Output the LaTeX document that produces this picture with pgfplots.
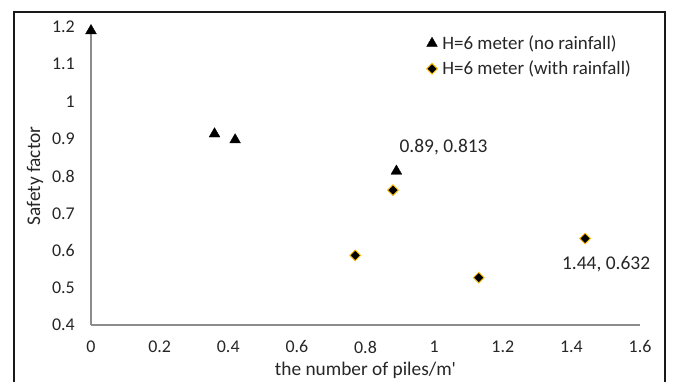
\documentclass[border=0pt]{standalone}
\usepackage{pgfplots}
\pgfplotsset{compat=1.18}
\usepackage{fontspec}
\setmainfont{Carlito}

\definecolor{axisgray}{HTML}{8C8C8C}
\definecolor{txt}{HTML}{262626}
\definecolor{rimgold}{HTML}{FFC000}

\begin{document}
\begin{tikzpicture}[x=1bp,y=1bp]
\useasboundingbox (0,0) rectangle (675,381);
% outer chart frame
\draw[line width=1.6bp, black!90] (14,-3) -- (14,369) -- (665,369) -- (665,-3);
\begin{axis}[
  at={(91bp,56bp)}, anchor=south west,
  scale only axis, width=549bp, height=298bp,
  xmin=0, xmax=1.6, ymin=0.4, ymax=1.2,
  axis lines=left,
  axis line style={-, draw=axisgray, line width=1.1bp},
  xtick={0,0.2,...,1.6}, ytick={0.4,0.5,...,1.2},
  major tick length=0pt,
  /pgf/number format/assume math mode=true,
  /pgf/number format/.cd, fixed, precision=1, /pgfplots/.cd,
  tick label style={font=\fontsize{18}{18}\selectfont, text=txt},
  xticklabel style={anchor=center, inner sep=0pt, yshift=-22bp},
  yticklabel style={anchor=east, inner sep=0pt, xshift=-16bp},
  xlabel={the number of piles/m\textquotesingle},
  ylabel={Safety factor},
  label style={font=\fontsize{19.4}{19.4}\selectfont, text=txt},
  xlabel style={at={(axis description cs:0.5,-0.151)}, anchor=center},
  ylabel style={at={(axis description cs:-0.102,0.5)}, anchor=center},
  legend style={at={(axis description cs:0.611,0.978)}, anchor=north west,
    draw=none, fill=none, font=\fontsize{19}{19}\selectfont, text=txt,
    row sep=6bp, column sep=3bp, inner sep=0pt,
    nodes={inner sep=2bp}},
  legend cell align=left,
  legend image code/.code={\draw[#1] plot coordinates {(0bp,0bp)};},
  clip=false,
]
\addplot[only marks, mark=triangle*, mark size=6.2bp,
  mark options={fill=black, draw=black}]
  coordinates {(0,1.19) (0.36,0.913) (0.42,0.897) (0.89,0.813)};
\addlegendentry{H=6 meter (no rainfall)}
\addplot[only marks, mark=square*, mark size=3.8bp,
  mark options={rotate=45, fill=black, draw=rimgold, line width=0.9bp}]
  coordinates {(0.77,0.587) (0.88,0.762) (1.13,0.527) (1.44,0.632)};
\addlegendentry{H=6 meter (with rainfall)}
% value labels next to two of the points
\node[anchor=west, inner sep=0pt, xshift=3bp, yshift=24bp, text=txt,
  font=\fontsize{19.5}{19.5}\selectfont] at (axis cs:0.89,0.813) {0.89, 0.813};
\node[anchor=center, inner sep=0pt, xshift=21bp, yshift=-26bp, text=txt,
  font=\fontsize{19.5}{19.5}\selectfont] at (axis cs:1.44,0.632) {1.44, 0.632};
\end{axis}
\end{tikzpicture}
\end{document}
